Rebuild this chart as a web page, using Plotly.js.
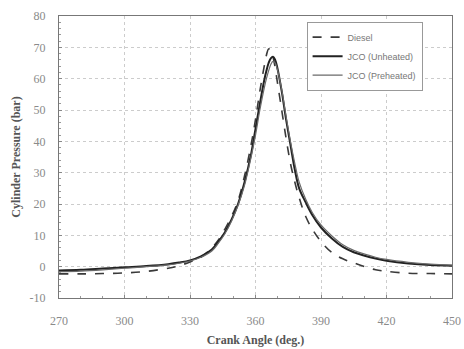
<!DOCTYPE html>
<html><head><meta charset="utf-8">
<script src="https://cdn.plot.ly/plotly-3.0.1.min.js"></script>
<style>html,body{margin:0;padding:0;background:#fff}#c{width:464px;height:349px}</style>
</head><body><div id="c"></div>
<script>
const crankAngle = [270,280,290,300,310,320,325,330,335,340,343,346,349,352,355,358,360,362,364,365,366,367,368,369,370,372,374,376,378,380,383,386,390,395,400,405,410,415,420,430,440,450];
const diesel = [-2.3,-2.3,-2.2,-2.0,-1.5,-0.5,0.3,1.5,3,6,8.5,12,16,21,29,39,47,56,64,67.5,69.5,69,67,63.5,59,50,41,33,27,22,16,12,8,4.5,2.5,1.2,0,-1,-1.5,-2.1,-2.2,-2.3];
const jcoUnheated = [-1.2,-1,-0.6,-0.2,0.2,0.8,1.3,2.0,3.3,5.5,8,11,15,20,27,36,44,52,59.5,62.5,65,66.5,67,66,63.5,56,47,39,31,25,20.5,16.5,12.5,9,6.3,4.6,3.5,2.6,1.9,1,0.5,0.3];
const jcoPreheated = [-1.6,-1.4,-1.0,-0.5,0,0.6,1.1,1.8,3,5,7.5,10.5,14.5,19.5,26,35,42,50,57,60,62.5,64.5,65.5,65,63,56.5,48,40,33,27,21.5,17.3,13.3,9.8,7,5.2,4,3,2.3,1.4,0.8,0.5];
const seriesNames = ['Diesel','JCO (Unheated)','JCO (Preheated)'];
const xTicks = [270,300,330,360,390,420,450];
const yTicks = [-10,0,10,20,30,40,50,60,70,80];

const traces = [
  {x: crankAngle, y: diesel, name: seriesNames[0], mode:'lines', line:{color:'#3a3a3a', width:1.6, dash:'dash', shape:'spline'}},
  {x: crankAngle, y: jcoUnheated, name: seriesNames[1], mode:'lines', line:{color:'#222', width:2, shape:'spline'}},
  {x: crankAngle, y: jcoPreheated, name: seriesNames[2], mode:'lines', line:{color:'#6a6a6a', width:1.2, shape:'spline'}}
];
const tickFont = {family:'Liberation Serif, Times New Roman, serif', size:12, color:'#8a8a8a'};
const titleFont = {family:'Liberation Serif, Times New Roman, serif', size:12, color:'#555'};
const layout = {
  width:464, height:349,
  margin:{l:59, r:12, t:16, b:51},
  paper_bgcolor:'#fff', plot_bgcolor:'#fff',
  showlegend:true,
  legend:{x:0.63, y:0.98, xanchor:'left', yanchor:'top', bgcolor:'#fff', bordercolor:'#999', borderwidth:1,
    font:{family:'Liberation Sans, Arial, sans-serif', size:9, color:'#777'}, tracegroupgap:0, itemwidth:30},
  xaxis:{range:[270,450], tickvals:xTicks, ticktext:xTicks.map(String), tickfont:tickFont,
    showgrid:true, gridcolor:'#ccc', griddash:'dot', gridwidth:1,
    showline:true, linecolor:'#777', linewidth:1, mirror:true, zeroline:false,
    ticks:'inside', ticklen:3, tickcolor:'#888', ticklabelstandoff:12,
    minor:{ticks:'inside', ticklen:2, dtick:10, tickcolor:'#999', showgrid:false},
    title:{text:'<b>Crank Angle (deg.)</b>', font:titleFont, standoff:8}},
  yaxis:{range:[-10,80], tickvals:yTicks, ticktext:yTicks.map(String), tickfont:tickFont,
    showgrid:true, gridcolor:'#ccc', griddash:'dot', gridwidth:1,
    showline:true, linecolor:'#777', linewidth:1, mirror:true, zeroline:false,
    ticks:'inside', ticklen:3, tickcolor:'#888', ticklabelstandoff:10,
    minor:{ticks:'inside', ticklen:2, dtick:2, tickcolor:'#999', showgrid:false},
    title:{text:'<b>Cylinder Pressure (bar)</b>', font:titleFont, standoff:6}}
};
Plotly.newPlot('c', traces, layout, {staticPlot:true, displayModeBar:false});
</script></body></html>
